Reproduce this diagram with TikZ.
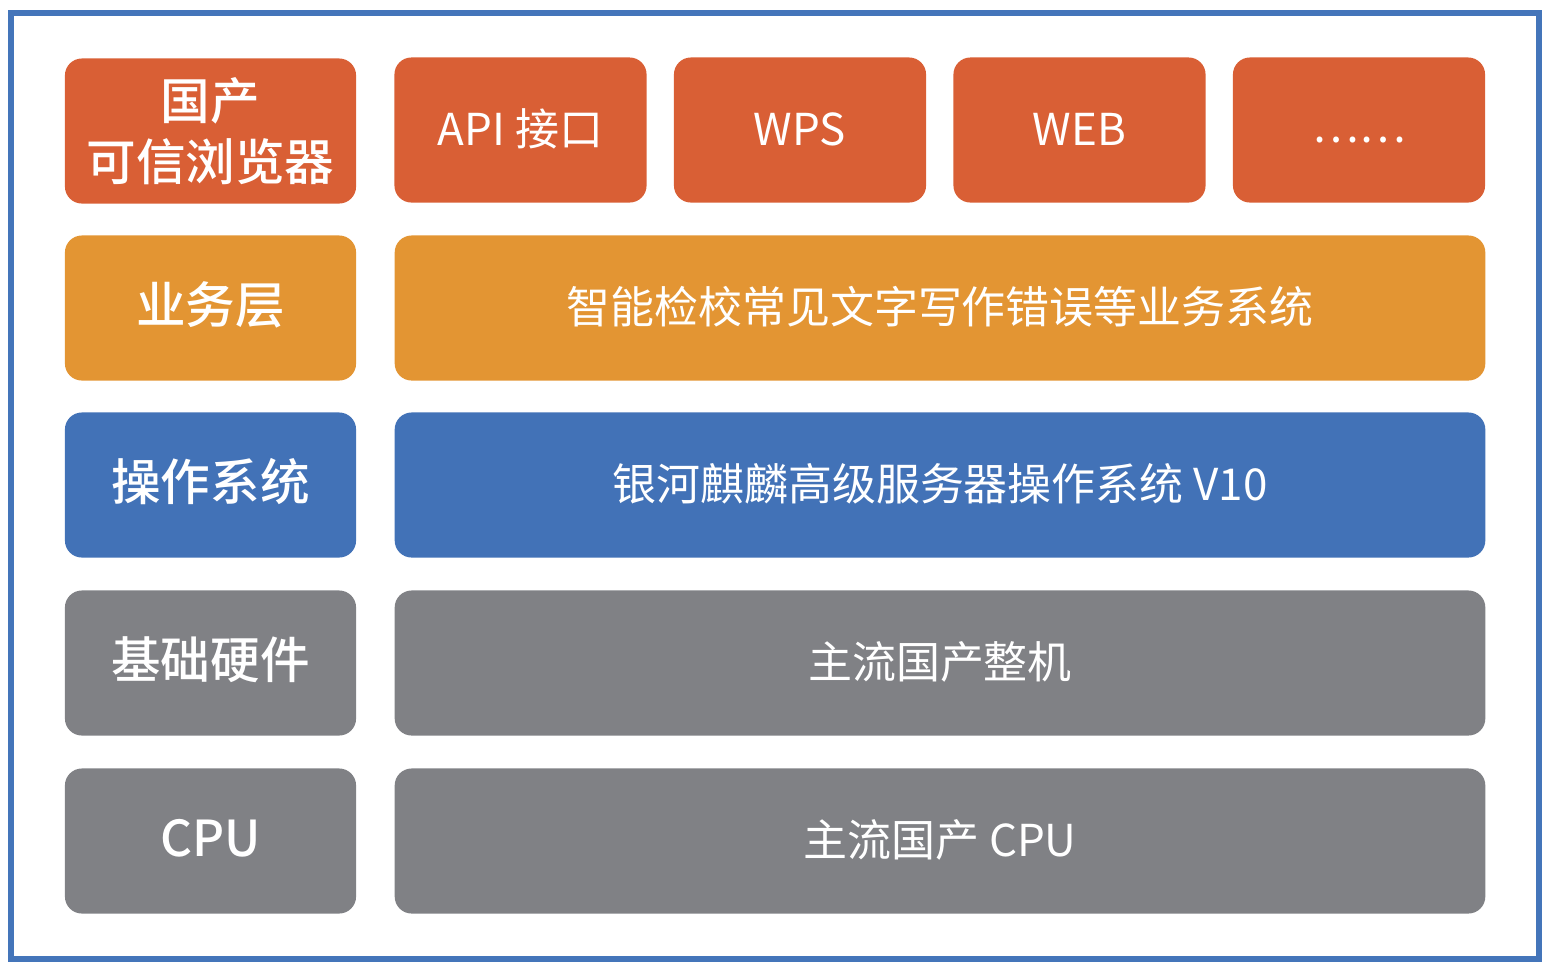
\documentclass[tikz,border=0pt]{standalone}
\usepackage{fontspec}
\setmainfont{Noto Sans CJK SC}
\newfontfamily\headfont{Noto Sans CJK SC Medium}
\begin{document}
\begin{tikzpicture}[x=0.01cm, y=-0.01cm]

        % 定义颜色
        \definecolor{appred}{RGB}{217, 95, 53}
        \definecolor{bizorange}{RGB}{227, 149, 51}
        \definecolor{osblue}{RGB}{66, 114, 183}
        \definecolor{hwgray}{RGB}{128, 129, 133}
        \definecolor{frameblue}{RGB}{68, 117, 186}

        \tikzset{
            layerbox/.style={rounded corners=0.17cm, text=white, inner sep=0pt, minimum height=1.45cm, text height=1em, text depth=0.1em},
            headbox/.style={layerbox, minimum width=2.91cm, font=\headfont\fontsize{14.1pt}{17.4pt}\selectfont, align=center},
            widebox/.style={layerbox, minimum width=10.9cm, font=\fontsize{12.5pt}{15pt}\selectfont},
            smallbox/.style={layerbox, minimum width=2.52cm, font=\fontsize{12.5pt}{15pt}\selectfont}
        }

        % 画布与外框
        \useasboundingbox (0, 0) rectangle (1554, 978);
        \draw[frameblue, line width=0.06cm] (11, 13) rectangle (1538.5, 958.5);

        % 左侧层名称
        \node[headbox, fill=appred, text height=, text depth=] (browser) at (210.5, 131) {国产\\可信浏览器};
        \node[headbox, fill=bizorange] (biz) at (210.5, 308) {业务层};
        \node[headbox, fill=osblue] (os) at (210.5, 485) {操作系统};
        \node[headbox, fill=hwgray] (hw) at (210.5, 663) {基础硬件};
        \node[headbox, fill=hwgray] (cpu) at (210.5, 841) {CPU};

        % 应用层
        \foreach \name/\label [count=\i from 0] in {api/API 接口, wps/WPS, web/WEB, more/\raisebox{0.03cm}{……}} {
            \node[smallbox, fill=appred] (\name) at (520.5+279.5*\i, 130) {\label};
        }

        % 右侧内容
        \node[widebox, fill=bizorange] (bizsys) at (940, 308) {智能检校常见文字写作错误等业务系统};
        \node[widebox, fill=osblue] (kylin) at (940, 485) {银河麒麟高级服务器操作系统 V10};
        \node[widebox, fill=hwgray] (pc) at (940, 663) {主流国产整机};
        \node[widebox, fill=hwgray] (cpuchip) at (940, 841) {主流国产 CPU};

    \end{tikzpicture}
\end{document}
